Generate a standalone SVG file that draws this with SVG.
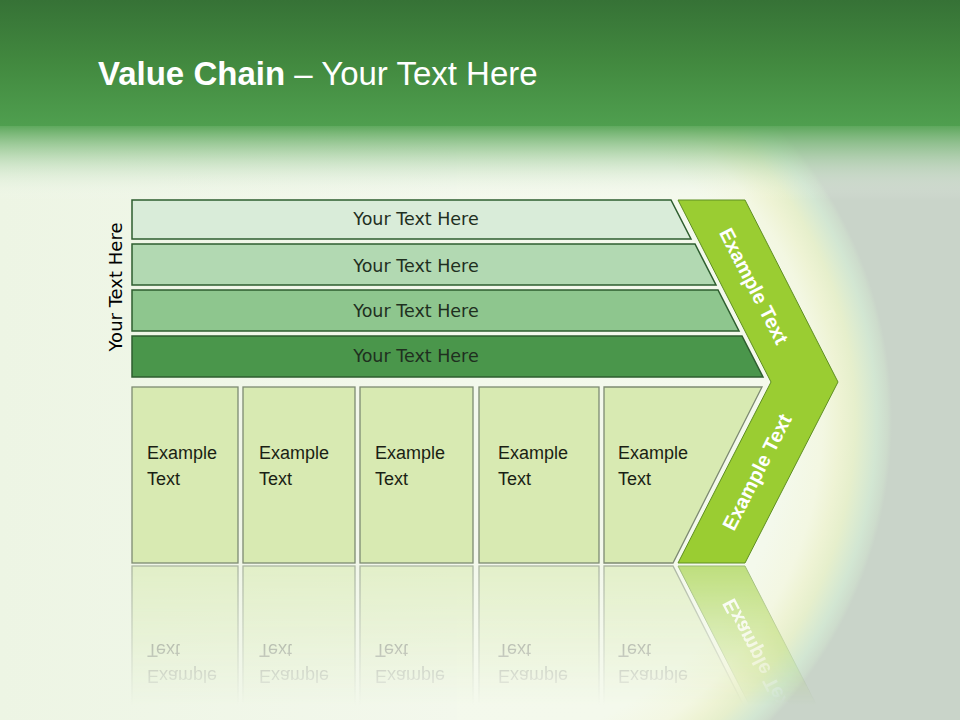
<svg xmlns="http://www.w3.org/2000/svg" xmlns:xlink="http://www.w3.org/1999/xlink" width="960" height="720" viewBox="0 0 960 720">
<defs>
  <linearGradient id="hdr" x1="0" y1="0" x2="0" y2="1">
    <stop offset="0" stop-color="#367236"/>
    <stop offset="0.5" stop-color="#42893f"/>
    <stop offset="1" stop-color="#4f9f4f"/>
  </linearGradient>
  <linearGradient id="hdrfade" x1="0" y1="0" x2="0" y2="1">
    <stop offset="0" stop-color="#58a557" stop-opacity="0.95"/>
    <stop offset="0.35" stop-color="#8cc28a" stop-opacity="0.6"/>
    <stop offset="1" stop-color="#ffffff" stop-opacity="0"/>
  </linearGradient>
  <radialGradient id="arcs" gradientUnits="userSpaceOnUse" cx="457" cy="420" r="435">
    <stop offset="0" stop-color="#f3f8ec"/>
    <stop offset="0.76" stop-color="#f4f9ec"/>
    <stop offset="0.84" stop-color="#f3f7e2"/>
    <stop offset="0.88" stop-color="#eef3d4"/>
    <stop offset="0.915" stop-color="#e6efcc"/>
    <stop offset="0.94" stop-color="#dcebd0"/>
    <stop offset="0.965" stop-color="#d2e6d2"/>
    <stop offset="0.99" stop-color="#cddccc"/>
    <stop offset="1" stop-color="#c9d4c9"/>
  </radialGradient>
  <linearGradient id="leftfade" x1="0" y1="0" x2="1" y2="0">
    <stop offset="0" stop-color="#edf5e4"/>
    <stop offset="1" stop-color="#f3f8ec"/>
  </linearGradient>
  <linearGradient id="fadeGrad" gradientUnits="userSpaceOnUse" x1="0" y1="565" x2="0" y2="705">
    <stop offset="0" stop-color="#fff" stop-opacity="0.6"/>
    <stop offset="1" stop-color="#fff" stop-opacity="0"/>
  </linearGradient>
  <mask id="fade" maskUnits="userSpaceOnUse" x="0" y="560" width="960" height="160">
    <rect x="0" y="560" width="960" height="160" fill="url(#fadeGrad)"/>
  </mask>
  <style>
    .bar { stroke: #2e5e2f; stroke-width: 1.5; }
    .bartxt { font-family: "DejaVu Sans", Verdana, sans-serif; font-size: 17.5px; fill: #1f2f1f; text-anchor: middle; }
    .box { fill: #d8eab2; stroke: #7d8a72; stroke-width: 1.3; }
    .boxtxt { font-family: "Liberation Sans", Arial, sans-serif; font-size: 18px; fill: #1a1f14; }
    .chev { fill: #9acd32; stroke: #5f8f22; stroke-width: 1; }
    .chevtxt { font-family: "Liberation Sans", Arial, sans-serif; font-size: 20px; font-weight: bold; fill: #ffffff; text-anchor: middle; }
    .title { font-family: "Liberation Sans", Arial, sans-serif; font-size: 33px; fill: #ffffff; }
  </style>
</defs>

<!-- background -->
<rect x="0" y="0" width="960" height="720" fill="url(#arcs)"/>
<rect x="0" y="0" width="457" height="720" fill="url(#leftfade)"/>
<rect x="0" y="0" width="960" height="126" fill="url(#hdr)"/>
<rect x="0" y="126" width="960" height="75" fill="url(#hdrfade)"/>

<!-- title -->
<text class="title" x="98" y="85"><tspan font-weight="bold">Value Chain</tspan> – Your Text Here</text>

<!-- side label -->
<text class="bartxt" transform="translate(122,287) rotate(-90)" style="fill:#000;font-size:18px">Your Text Here</text>

<!-- bars -->
<g id="bar1">
  <polygon class="bar" points="132,200 671,200 691,239 132,239" fill="#d9ecd9"/>
  <text class="bartxt" x="416" y="225">Your Text Here</text>
</g>
<g id="bar2">
  <polygon class="bar" points="132,244 695,244 716,285 132,285" fill="#b2d9b2"/>
  <text class="bartxt" x="416" y="272">Your Text Here</text>
</g>
<g id="bar3">
  <polygon class="bar" points="132,290 718,290 739,331 132,331" fill="#8ec68e"/>
  <text class="bartxt" x="416" y="317">Your Text Here</text>
</g>
<g id="bar4">
  <polygon class="bar" points="132,336 742,336 763,377 132,377" fill="#4a964b"/>
  <text class="bartxt" x="416" y="362">Your Text Here</text>
</g>

<!-- boxes -->
<g id="boxes">
  <g id="box1">
    <rect class="box" x="132" y="387" width="106" height="176"/>
    <text class="boxtxt" x="147" y="459">Example</text>
    <text class="boxtxt" x="147" y="485">Text</text>
  </g>
  <g id="box2">
    <rect class="box" x="243" y="387" width="112" height="176"/>
    <text class="boxtxt" x="259" y="459">Example</text>
    <text class="boxtxt" x="259" y="485">Text</text>
  </g>
  <g id="box3">
    <rect class="box" x="360" y="387" width="113" height="176"/>
    <text class="boxtxt" x="375" y="459">Example</text>
    <text class="boxtxt" x="375" y="485">Text</text>
  </g>
  <g id="box4">
    <rect class="box" x="479" y="387" width="120" height="176"/>
    <text class="boxtxt" x="498" y="459">Example</text>
    <text class="boxtxt" x="498" y="485">Text</text>
  </g>
  <g id="box5">
    <polygon class="box" points="604,387 762,387 673,563 604,563"/>
    <text class="boxtxt" x="618" y="459">Example</text>
    <text class="boxtxt" x="618" y="485">Text</text>
  </g>
</g>

<!-- chevron -->
<g id="chevron">
  <polygon class="chev" points="678,200 745,200 838,382 745,563 678,563 771,382"/>
  <text class="chevtxt" transform="translate(754,286) rotate(62.8)" dy="7">Example Text</text>
  <text class="chevtxt" transform="translate(757,472) rotate(-62.8)" dy="7">Example Text</text>
</g>

<!-- reflection -->
<g id="reflection" mask="url(#fade)">
  <use xlink:href="#boxes" transform="translate(0,1129) scale(1,-1)"/>
  <use xlink:href="#chevron" transform="translate(0,1129) scale(1,-1)"/>
</g>

<g id="connectors"/>
</svg>
